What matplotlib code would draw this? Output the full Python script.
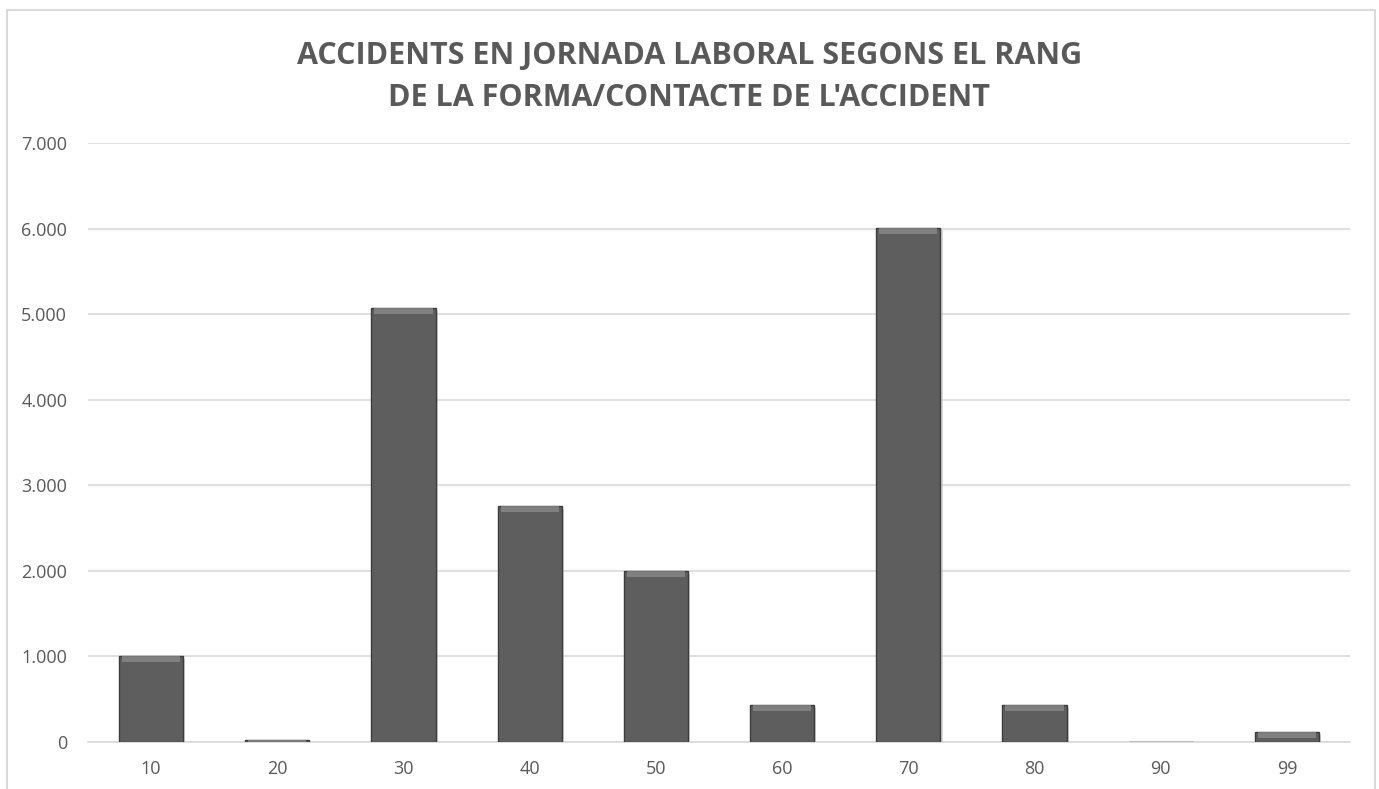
import matplotlib
matplotlib.use("Agg")
import matplotlib.pyplot as plt
from matplotlib.patches import Rectangle
import matplotlib.patheffects as pe
from matplotlib.ticker import FuncFormatter, MultipleLocator

categories = ["10", "20", "30", "40", "50", "60", "70", "80", "90", "99"]
values = [1005, 25, 5075, 2760, 2000, 430, 6010, 430, 5, 115]
title = "ACCIDENTS EN JORNADA LABORAL SEGONS EL RANG\nDE LA FORMA/CONTACTE DE L'ACCIDENT"

W, H = 1379, 789
fig = plt.figure(figsize=(W / 100, H / 100), dpi=100)
fig.patch.set_facecolor("white")

# outer chart frame
fig.add_artist(Rectangle((7 / W, -0.05), (1375 - 7) / W, 1.05 - 10 / H,
                         transform=fig.transFigure, fill=False,
                         edgecolor="#d9d9d9", linewidth=1.5))

ax = fig.add_axes([88 / W, 1 - 742 / H, (1350 - 88) / W, (742 - 143) / H])
x = list(range(len(categories)))

bars = ax.bar(x, values, width=0.51, color="#5e5e5e", edgecolor="#3c3c3c",
              linewidth=1.0, zorder=3)
for b in bars:
    b.set_path_effects([pe.SimplePatchShadow(offset=(1.5, -2), shadow_rgbFace="#bdbdbd", alpha=0.6),
                        pe.Normal()])
# bevel highlight at top of each bar
bevel = 70
tops = [max(v - bevel, 0) for v in values]
hts = [min(bevel, v) for v in values]
ax.bar(x, hts, bottom=tops, width=0.46, color="#8c8c8c", linewidth=0, zorder=4, alpha=0.75)

ax.set_xlim(-0.5, len(categories) - 0.5)
ax.set_ylim(0, 7000)
ax.yaxis.set_major_locator(MultipleLocator(1000))
ax.yaxis.set_major_formatter(FuncFormatter(lambda v, p: f"{int(v):,}".replace(",", ".")))
ax.set_xticks(x)
ax.set_xticklabels(categories)

ax.grid(axis="y", color="#d9d9d9", linewidth=1.2, zorder=0)
ax.set_axisbelow(True)
for s in ["top", "right", "left"]:
    ax.spines[s].set_visible(False)
ax.spines["bottom"].set_color("#d9d9d9")
ax.spines["bottom"].set_linewidth(1.2)
ax.tick_params(axis="both", length=0, labelsize=13, labelcolor="#595959")
ax.tick_params(axis="y", pad=15)
ax.tick_params(axis="x", pad=13)
for lbl in ax.get_xticklabels() + ax.get_yticklabels():
    lbl.set_fontfamily("Open Sans")

fig.text(0.5, 1 - 77 / H, title, ha="center", va="center", fontsize=22,
         fontweight="bold", color="#595959", family="Open Sans", linespacing=1.5)

fig.savefig("out.png", dpi=100, facecolor="white")
